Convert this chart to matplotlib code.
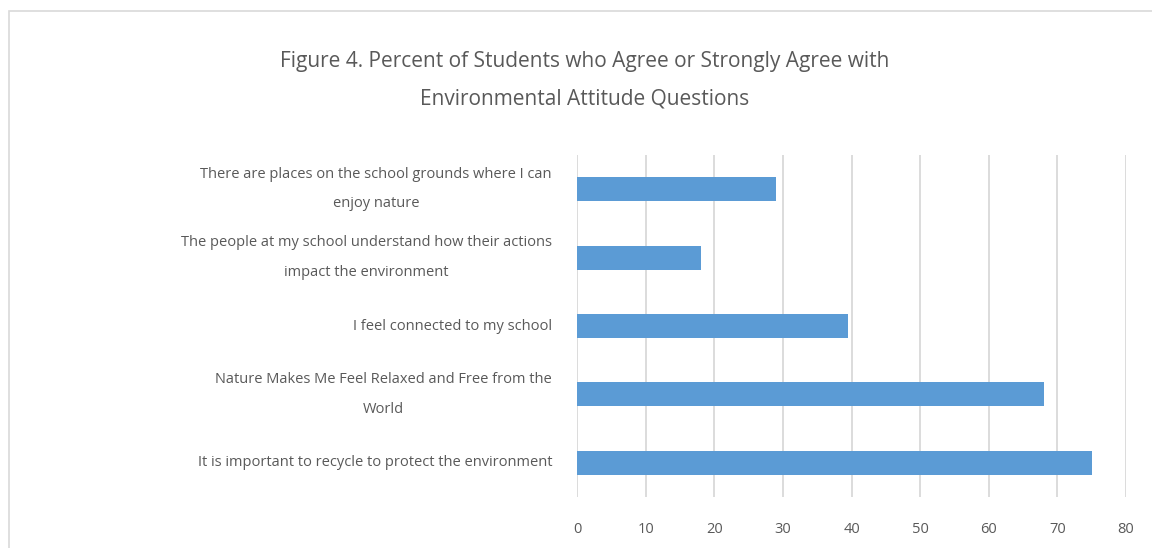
import matplotlib
matplotlib.use("Agg")
import matplotlib.pyplot as plt
from matplotlib.patches import Rectangle

# Survey results: percent agreeing or strongly agreeing
categories = [
    "There are places on the school grounds where I can\nenjoy nature",
    "The people at my school understand how their actions\nimpact the environment",
    "I feel connected to my school",
    "Nature Makes Me Feel Relaxed and Free from the\nWorld",
    "It is important to recycle to protect the environment",
]
percent_agree = [29, 18, 39.5, 68, 75]
x_ticks = [0, 10, 20, 30, 40, 50, 60, 70, 80]

title = ("Figure 4. Percent of Students who Agree or Strongly Agree with\n"
         "Environmental Attitude Questions")

TEXT = "#595959"
GRID = "#d9d9d9"
BAR = "#5b9bd5"
FONT = ["Open Sans", "DejaVu Sans"]

W, H = 1152, 548
fig = plt.figure(figsize=(W / 100, H / 100), dpi=100)
fig.patch.set_facecolor("white")

# chart frame (runs off the right and bottom edges)
fig.patches.append(Rectangle((8.5 / W, -0.1), 1.2, 1 - 11 / H + 0.1,
                             transform=fig.transFigure, fill=False,
                             edgecolor=GRID, linewidth=1.2))

ax = fig.add_axes([577 / W, 1 - 497 / H, (1126 - 577) / W, (497 - 155) / H])
y = list(range(len(categories)))
ax.barh(y, percent_agree, height=0.35, color=BAR, zorder=3)
ax.set_xlim(0, 80)
ax.set_ylim(len(categories) - 0.5, -0.5)
ax.set_xticks(x_ticks)
ax.set_xticklabels([str(t) for t in x_ticks])
ax.set_yticks(y)
ax.set_yticklabels(categories, multialignment="center", linespacing=2.3,
                   va="center")
ax.grid(axis="x", color=GRID, linewidth=1.3, zorder=0)
ax.grid(axis="y", visible=False)
for s in ax.spines.values():
    s.set_visible(False)
ax.tick_params(axis="x", length=0, pad=18, labelcolor=TEXT, labelsize=10.5)
ax.tick_params(axis="y", length=0, pad=18, labelcolor=TEXT, labelsize=10.5)
for lbl in ax.get_xticklabels() + ax.get_yticklabels():
    lbl.set_family(FONT)

fig.text(585 / W, 1 - 80 / H, title, ha="center", va="center",
         color=TEXT, fontsize=15, family=FONT, linespacing=2.0)

fig.savefig("out.png", dpi=100, facecolor="white")
